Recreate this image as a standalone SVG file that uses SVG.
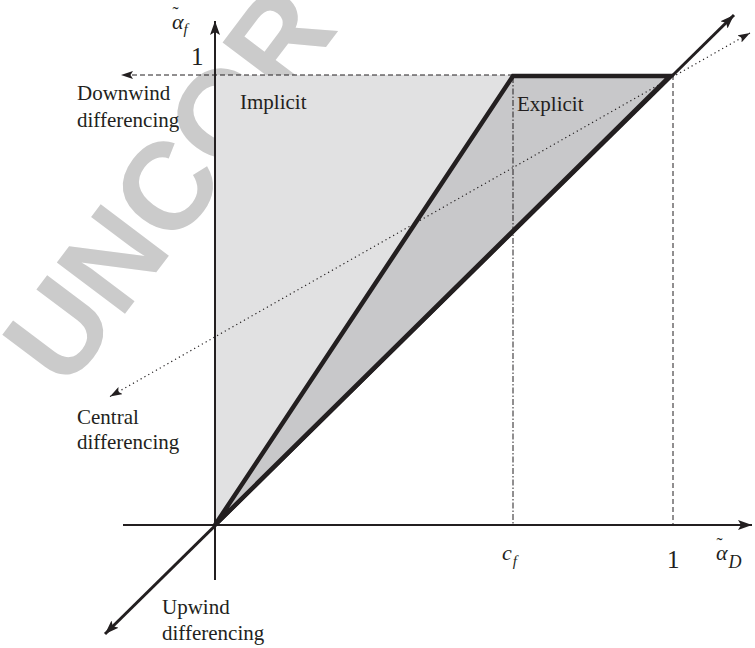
<svg xmlns="http://www.w3.org/2000/svg" width="755" height="648" viewBox="0 0 755 648">
<style>
.lbl{font-family:"Liberation Serif","Times New Roman",serif;font-size:21px;fill:#231f20}
.math{font-family:"Liberation Serif","Times New Roman",serif;font-style:italic;fill:#231f20}
.num{font-family:"Liberation Serif","Times New Roman",serif;font-size:25px;fill:#231f20}
.wm{font-family:"Liberation Sans",Arial,sans-serif;font-weight:bold;font-size:124px;fill:#cbcbcb}
.axis{stroke:#231f20;stroke-width:2;fill:none}
.thick{stroke:#231f20;stroke-width:4.5;fill:none;stroke-linejoin:miter}
.diag{stroke:#231f20;stroke-width:3;fill:none}
.dash{stroke:#231f20;stroke-width:1;stroke-dasharray:5 3;fill:none}
.dashdot{stroke:#231f20;stroke-width:1;stroke-dasharray:6 2 1.5 2;fill:none}
.dot{stroke:#231f20;stroke-width:1.2;stroke-dasharray:1.2 3.2;fill:none}
</style>
<defs>
<marker id="ah" markerUnits="userSpaceOnUse" markerWidth="16" markerHeight="12" refX="14" refY="5" orient="auto-start-reverse">
<path d="M0,0 L14,5 L0,10 L3,5 z" fill="#231f20"/>
</marker>
<marker id="ahs" markerUnits="userSpaceOnUse" markerWidth="14" markerHeight="10" refX="12" refY="4" orient="auto-start-reverse">
<path d="M0,0 L12,4 L0,8 L2.5,4 z" fill="#231f20"/>
</marker>
</defs>

<text class="wm" x="66" y="392" transform="rotate(-53 66 392)">UNCOR</text>

<g id="implicit-region">
<polygon points="215,75 513,75 215,525" fill="#e1e1e2"/>
</g>
<g id="explicit-region">
<polygon points="513,75 670,75 215,525" fill="#c8c8ca"/>
</g>

<g id="connectors">
<line class="dash" x1="673" y1="75" x2="121" y2="75" marker-end="url(#ahs)"/>
<line class="dash" x1="673" y1="75" x2="673" y2="525"/>
<line class="dashdot" x1="513" y1="77" x2="513" y2="525"/>
<line class="dot" x1="110" y1="396.5" x2="750" y2="33" marker-start="url(#ahs)" marker-end="url(#ahs)"/>
<line class="axis" x1="215" y1="580" x2="215" y2="21" marker-end="url(#ah)"/>
<line class="axis" x1="123" y1="525" x2="752" y2="525" marker-end="url(#ah)"/>
<line class="diag" x1="105" y1="634" x2="734" y2="15" marker-start="url(#ah)" marker-end="url(#ah)"/>
<polyline class="thick" points="215,525 513,76 670,76 215,525"/>
</g>

<g id="axis-labels">
<text class="math" x="172" y="29" font-size="22">α<tspan font-size="18" font-style="normal" dx="-11" dy="-9">˜</tspan><tspan font-size="15" dx="5" dy="14">f</tspan></text>
<text class="num" x="191" y="65">1</text>
<text class="math" x="502" y="560" font-size="22">c<tspan font-size="15" dx="1" dy="6">f</tspan></text>
<text class="num" x="667" y="568">1</text>
<text class="math" x="716" y="560" font-size="22">α<tspan font-size="18" font-style="normal" dx="-11" dy="-9">˜</tspan><tspan font-size="18" dx="6" dy="17">D</tspan></text>
</g>

<g id="downwind"><text class="lbl" x="77" y="100">Downwind</text><text class="lbl" x="77" y="127">differencing</text></g>
<g id="implicit"><text class="lbl" x="240" y="109">Implicit</text></g>
<g id="explicit"><text class="lbl" x="517" y="111">Explicit</text></g>
<g id="central"><text class="lbl" x="77" y="424">Central</text><text class="lbl" x="77" y="449">differencing</text></g>
<g id="upwind"><text class="lbl" x="162" y="614">Upwind</text><text class="lbl" x="162" y="640">differencing</text></g>
</svg>
